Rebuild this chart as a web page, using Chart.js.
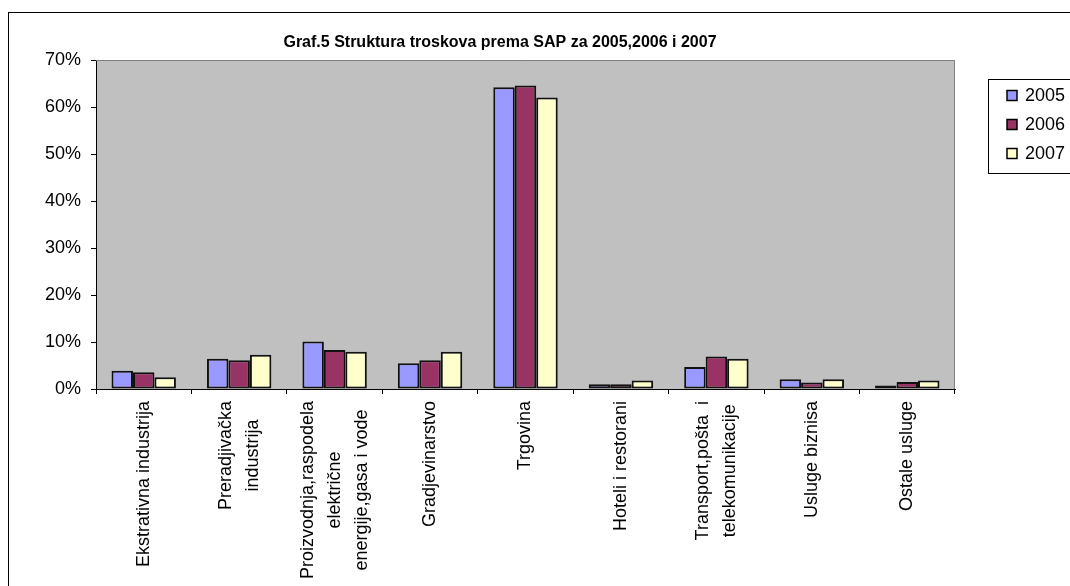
<!DOCTYPE html>
<html>
<head>
<meta charset="utf-8">
<script src="https://cdn.jsdelivr.net/npm/chart.js@4"></script>
<style>
  html, body { margin: 0; padding: 0; background: #fff; }
  #wrap { width: 1070px; height: 586px; }
</style>
</head>
<body>
<div id="wrap"><canvas id="chart" width="1070" height="586"></canvas></div>
<script>
// Graf.5 data (percent)
const categories = [
  ['Ekstrativna industrija'],
  ['Preradjivačka', 'industrija'],
  ['Proizvodnja,raspodela', 'električne', 'energije,gasa i vode'],
  ['Gradjevinarstvo'],
  ['Trgovina'],
  ['Hoteli i restorani'],
  ['Transport,pošta  i', 'telekomunikacije'],
  ['Usluge biznisa'],
  ['Ostale usluge']
]
const seriesNames = ['2005', '2006', '2007']
const values2005 = [3.9, 6.45, 10.1, 5.5, 64.2, 1.0, 4.7, 2.1, 0.75]
const values2006 = [3.55, 6.1, 8.3, 6.1, 64.6, 1.0, 6.9, 1.4, 1.5]
const values2007 = [2.5, 7.3, 7.9, 7.9, 62.0, 1.8, 6.45, 2.1, 1.8]
const yMax = 70
const yStep = 10
const titleText = 'Graf.5 Struktura troskova prema SAP za 2005,2006 i 2007'

const FONT = 'Arial, "Liberation Sans", sans-serif'
Chart.defaults.font.family = FONT
Chart.defaults.color = '#000'

// plot background, outer frame, title, rotated category labels, legend box
const excelLook = {
  id: 'excelLook',
  beforeDraw(chart) {
    const { ctx, chartArea: a } = chart
    ctx.save()
    ctx.fillStyle = '#fff'
    ctx.fillRect(0, 0, chart.width, chart.height)
    ctx.strokeStyle = '#000'
    ctx.lineWidth = 1
    ctx.strokeRect(8.5, 12.5, 1200, 800)
    ctx.fillStyle = '#c0c0c0'
    ctx.fillRect(a.left, a.top, a.right - a.left, a.bottom - a.top)
    ctx.restore()
  },
  afterDraw(chart) {
    const { ctx, chartArea: a } = chart
    const xScale = chart.scales.x
    ctx.save()

    // gray frame on top and right of plot
    ctx.strokeStyle = '#808080'
    ctx.lineWidth = 1
    ctx.beginPath()
    ctx.moveTo(a.left, a.top + 0.5)
    ctx.lineTo(a.right - 0.5, a.top + 0.5)
    ctx.lineTo(a.right - 0.5, a.bottom)
    ctx.stroke()

    // title
    ctx.fillStyle = '#000'
    ctx.font = 'bold 16px ' + FONT
    ctx.textAlign = 'center'
    ctx.textBaseline = 'alphabetic'
    ctx.fillText(titleText, 500, 47)

    // category labels, rotated, lines centered in a top-aligned block
    ctx.font = '18px ' + FONT
    chart.data.labels.forEach((lines, i) => {
      const x = xScale.getPixelForValue(i)
      const w = Math.max(...lines.map(l => ctx.measureText(l).width))
      ctx.save()
      ctx.translate(x, a.bottom + 12 + w / 2)
      ctx.rotate(-Math.PI / 2)
      ctx.textAlign = 'center'
      ctx.textBaseline = 'middle'
      lines.forEach((l, j) => {
        ctx.fillText(l, 0, (j - (lines.length - 1) / 2) * 27)
      })
      ctx.restore()
    })

    // legend
    ctx.strokeStyle = '#000'
    ctx.strokeRect(988.5, 79.5, 200, 94)
    ctx.textAlign = 'left'
    ctx.textBaseline = 'middle'
    chart.data.datasets.forEach((ds, i) => {
      const cy = 95 + i * 29
      ctx.fillStyle = ds.backgroundColor
      ctx.fillRect(1007, cy - 4.5, 10, 10)
      ctx.lineWidth = 1.5
      ctx.strokeRect(1007, cy - 4.5, 10, 10)
      ctx.fillStyle = '#000'
      ctx.fillText(ds.label, 1025, cy + 1)
    })
    ctx.restore()
  }
}

const barStyle = { borderColor: '#111', borderWidth: 2, borderSkipped: false }

new Chart(document.getElementById('chart'), {
  type: 'bar',
  data: {
    labels: categories,
    datasets: [
      { label: seriesNames[0], data: values2005, backgroundColor: '#9999ff', ...barStyle },
      { label: seriesNames[1], data: values2006, backgroundColor: '#993366', ...barStyle },
      { label: seriesNames[2], data: values2007, backgroundColor: '#ffffcc', ...barStyle }
    ]
  },
  options: {
    responsive: false,
    animation: false,
    layout: { padding: { left: 8, top: 60, right: 115, bottom: 0 } },
    datasets: { bar: { categoryPercentage: 0.675, barPercentage: 1.0 } },
    plugins: {
      legend: { display: false },
      title: { display: false },
      tooltip: { enabled: false }
    },
    scales: {
      x: {
        offset: true,
        grid: { offset: true, drawOnChartArea: false, drawTicks: true, tickLength: 5, color: '#000' },
        border: { display: true, color: '#000', width: 1 },
        ticks: { display: false },
        afterFit(scale) { scale.height = 197 }
      },
      y: {
        min: 0,
        max: yMax,
        grid: { drawOnChartArea: false, drawTicks: true, tickLength: 5, color: '#000' },
        border: { display: true, color: '#000', width: 1 },
        ticks: {
          stepSize: yStep,
          padding: 10,
          font: { size: 18 },
          color: '#000',
          callback: v => v + '%'
        },
        afterFit(scale) { scale.width = 88 }
      }
    }
  },
  plugins: [excelLook]
})
</script>
</body>
</html>
